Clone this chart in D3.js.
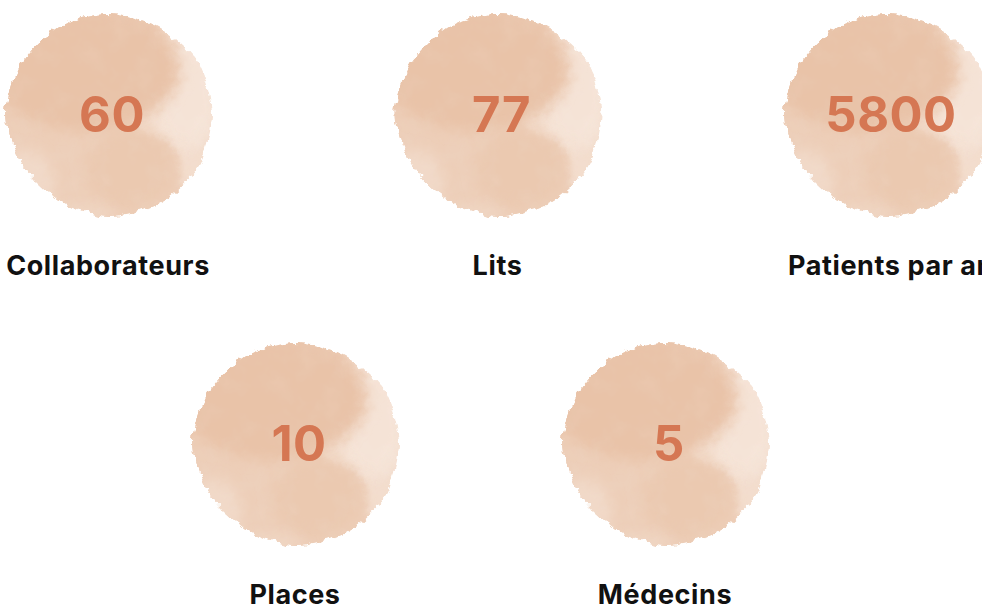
<!DOCTYPE html>
<html>
<head>
<meta charset="utf-8">
<script src="https://cdn.jsdelivr.net/npm/d3@7"></script>
<style>
  html, body { margin: 0; padding: 0; background: #fff; overflow: hidden; }
  svg { display: block; }
  .num { font-family: Inter, "DejaVu Sans", sans-serif; font-weight: 700; fill: #d57753; }
  .lbl { font-family: Inter, "DejaVu Sans", sans-serif; font-weight: 700; fill: #111; }
</style>
</head>
<body>
<div id="chart"></div>
<script>
// figures shown in the blobs
const labels = ['Collaborateurs', 'Lits', 'Patients par an', 'Places', 'Médecins'];
const values = ['60', '77', '5800', '10', '5'];
const rows = [0, 0, 0, 1, 1];

const width = 982, height = 606;
const R = 102;

const svg = d3.select('#chart').append('svg')
  .attr('width', width)
  .attr('height', height);

const defs = svg.append('defs');

// rough watercolour edge
const edge = defs.append('filter').attr('id', 'edge')
  .attr('x', '-20%').attr('y', '-20%').attr('width', '140%').attr('height', '140%');
edge.append('feTurbulence').attr('type', 'fractalNoise').attr('baseFrequency', 0.11)
  .attr('numOctaves', 3).attr('seed', 4).attr('result', 'noise');
edge.append('feDisplacementMap').attr('in', 'SourceGraphic').attr('in2', 'noise')
  .attr('scale', 8).attr('xChannelSelector', 'R').attr('yChannelSelector', 'G');

const soft = defs.append('filter').attr('id', 'soft')
  .attr('x', '-30%').attr('y', '-30%').attr('width', '160%').attr('height', '160%');
soft.append('feGaussianBlur').attr('stdDeviation', 7);

const softer = defs.append('filter').attr('id', 'softer')
  .attr('x', '-30%').attr('y', '-30%').attr('width', '160%').attr('height', '160%');
softer.append('feGaussianBlur').attr('stdDeviation', 3.5);

// mottled texture
const mottle = defs.append('filter').attr('id', 'mottle');
mottle.append('feTurbulence').attr('type', 'fractalNoise').attr('baseFrequency', 0.04)
  .attr('numOctaves', 3).attr('seed', 9);
mottle.append('feColorMatrix').attr('type', 'matrix')
  .attr('values', '0 0 0 0 1  0 0 0 0 1  0 0 0 0 1  0 0 0 0.5 -0.2');
mottle.append('feComposite').attr('in2', 'SourceGraphic').attr('operator', 'in');

// blob outline: slightly irregular circle
const radial = d3.lineRadial().curve(d3.curveCardinalClosed.tension(0.2));
const bumps = [0.98, 0.97, 1.0, 1.0, 1.01, 1.0, 1.0, 0.98, 0.99, 1.02, 1.0, 0.99];
const outline = radial(bumps.map((k, i) => [i / bumps.length * 2 * Math.PI, R * k]));

defs.append('clipPath').attr('id', 'blobclip')
  .append('path').attr('d', outline);

// darker wash covering the left part; the right rim stays pale
const washPts = [[-130, -130], [45, -130], [42, -72], [25, -26], [18, 2], [36, 22],
  [60, 30], [68, 48], [72, 78], [66, 100], [62, 130], [-130, 130]];
const wash = d3.line().curve(d3.curveCatmullRom)(washPts) + 'Z';

const data = labels.map((l, i) => ({ label: l, value: values[i], row: rows[i] }));

const x0 = d3.scalePoint().domain(data.filter(d => d.row === 0).map(d => d.label)).range([110, 889]);
const x1 = d3.scalePoint().domain(data.filter(d => d.row === 1).map(d => d.label)).range([297, 667]);
const y = d3.scalePoint().domain([0, 1]).range([114, 443]);

const g = svg.selectAll('g.item')
  .data(data)
  .join('g')
  .attr('class', 'item')
  .attr('transform', d => `translate(${d.row === 0 ? x0(d.label) : x1(d.label)},${y(d.row)})`);

const blob = g.append('g').attr('filter', 'url(#edge)');
const inner = blob.append('g').attr('clip-path', 'url(#blobclip)');

inner.append('path').attr('d', outline).attr('fill', '#f3ddcd');
inner.append('ellipse').attr('cx', 75).attr('cy', -20).attr('rx', 35).attr('ry', 55)
  .attr('fill', '#f6e5d9').attr('opacity', 0.8).attr('filter', 'url(#soft)');
inner.append('path').attr('d', wash).attr('fill', '#edceb8').attr('filter', 'url(#softer)');
inner.append('ellipse').attr('cx', -25).attr('cy', -45).attr('rx', 95).attr('ry', 62)
  .attr('fill', '#e9c3a8').attr('filter', 'url(#soft)');
inner.append('ellipse').attr('cx', 20).attr('cy', 55).attr('rx', 45).attr('ry', 40)
  .attr('fill', '#ebc9b0').attr('filter', 'url(#soft)');
inner.append('ellipse').attr('cx', -85).attr('cy', 70).attr('rx', 30).attr('ry', 35)
  .attr('fill', '#f1d9c8').attr('filter', 'url(#soft)');
inner.append('ellipse').attr('cx', -40).attr('cy', 105).attr('rx', 45).attr('ry', 14)
  .attr('fill', '#f0d6c3').attr('filter', 'url(#soft)');
inner.append('rect').attr('x', -R - 10).attr('y', -R - 10).attr('width', 2 * R + 20).attr('height', 2 * R + 20)
  .attr('fill', '#fff').attr('opacity', 0.3).attr('filter', 'url(#mottle)');

g.append('text')
  .attr('class', 'num')
  .attr('text-anchor', 'middle')
  .attr('x', 2)
  .attr('y', 18)
  .attr('font-size', 49)
  .attr('letter-spacing', 0.5)
  .text(d => d.value);

g.append('text')
  .attr('class', 'lbl')
  .attr('text-anchor', d => d.label === 'Patients par an' ? 'start' : 'middle')
  .attr('x', d => d.label === 'Patients par an' ? -101 : -2)
  .attr('y', 161)
  .attr('font-size', 27)
  .attr('letter-spacing', 0.6)
  .text(d => d.label);
</script>
</body>
</html>
